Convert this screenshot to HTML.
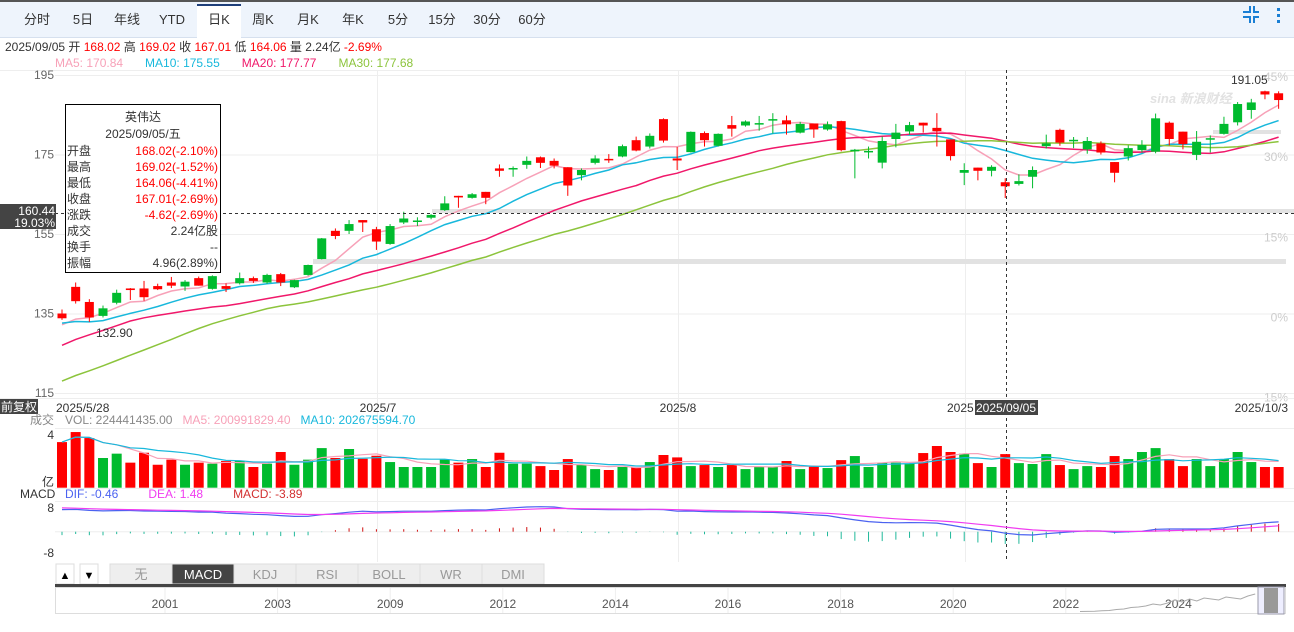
<!DOCTYPE html>
<html><head><meta charset="utf-8"><style>
html,body{margin:0;padding:0;background:#fff;}
body{width:1294px;height:627px;overflow:hidden;position:relative;font-family:"Liberation Sans","Noto Sans CJK SC",sans-serif;}
text{font-family:"Liberation Sans","Noto Sans CJK SC",sans-serif;}
</style></head><body>
<svg id="chart" width="1294" height="627" viewBox="0 0 1294 627" xmlns="http://www.w3.org/2000/svg">
  <rect x="0" y="0" width="1294" height="2" fill="#555"/>
  <rect x="0" y="2" width="1294" height="35" fill="#eef4fc"/>
  <line x1="0" y1="37.5" x2="1294" y2="37.5" stroke="#d6e0ee"/>
  <rect x="197" y="4" width="44" height="34" fill="#fff"/>
  <rect x="197" y="4" width="44" height="2" fill="#1f3f7a"/>
  <g id="tabs" font-size="13" fill="#333" text-anchor="middle"></g>
  <g fill="#1a7fd4">
    <rect x="1243" y="11" width="6" height="2"/><rect x="1249" y="6" width="2" height="7"/>
    <rect x="1253" y="11" width="6" height="2"/><rect x="1253" y="6" width="2" height="7"/>
    <rect x="1243" y="16" width="6" height="2"/><rect x="1249" y="16" width="2" height="7"/>
    <rect x="1253" y="16" width="6" height="2"/><rect x="1253" y="16" width="2" height="7"/>
  </g>
  <g fill="#1a7fd4">
    <rect x="1277" y="8" width="3" height="3"/><rect x="1277" y="14" width="3" height="3"/><rect x="1277" y="20" width="3" height="3"/>
  </g>
  <text x="5" y="51" font-size="12"><tspan fill="#333">2025/09/05 开 </tspan><tspan fill="#f00">168.02</tspan><tspan fill="#333"> 高 </tspan><tspan fill="#f00">169.02</tspan><tspan fill="#333"> 收 </tspan><tspan fill="#f00">167.01</tspan><tspan fill="#333"> 低 </tspan><tspan fill="#f00">164.06</tspan><tspan fill="#333"> 量 2.24亿 </tspan><tspan fill="#f00">-2.69%</tspan></text>
  <text x="55" y="67" font-size="12"><tspan fill="#f7a1b8">MA5: 170.84</tspan><tspan dx="22" fill="#18b8dc">MA10: 175.55</tspan><tspan dx="22" fill="#f0186a">MA20: 177.77</tspan><tspan dx="22" fill="#8cc43c">MA30: 177.68</tspan></text>
  <line x1="0" y1="70.5" x2="1294" y2="70.5" stroke="#eee"/>
  <g id="grid"></g>
  <g id="bands"></g>
  <g id="yaxis" font-size="12" fill="#666"></g>
  <g id="pctaxis" font-size="12" fill="#ccc" text-anchor="end"></g>
  <text x="1150" y="103" font-size="13" fill="#e2e2e2" font-style="italic" font-weight="bold">sina 新浪财经</text>
  <g id="ma"></g>
  <g id="candles"></g>
  <text x="96" y="337" font-size="12" fill="#333">132.90</text>
  <text x="1231" y="84" font-size="12" fill="#333">191.05</text>
  <line x1="55" y1="213.5" x2="1294" y2="213.5" stroke="#333" stroke-dasharray="3,3"/>
  <line x1="1006.5" y1="70" x2="1006.5" y2="562" stroke="#333" stroke-dasharray="3,3"/>
  <rect x="0" y="204" width="56" height="25" fill="#444"/>
  <text x="55" y="215" font-size="12" fill="#fff" text-anchor="end">160.44</text>
  <text x="55" y="227" font-size="12" fill="#fff" text-anchor="end">19.03%</text>
  <g>
    <rect x="65.5" y="104.5" width="155" height="168" fill="#fff" stroke="#000"/>
    <g font-size="12" fill="#333">
      <text x="143" y="121" text-anchor="middle">英伟达</text>
      <text x="143" y="138" text-anchor="middle">2025/09/05/五</text>
      <text x="67" y="155">开盘</text><text x="218" y="155" text-anchor="end" fill="#f00">168.02(-2.10%)</text>
      <text x="67" y="171">最高</text><text x="218" y="171" text-anchor="end" fill="#f00">169.02(-1.52%)</text>
      <text x="67" y="187">最低</text><text x="218" y="187" text-anchor="end" fill="#f00">164.06(-4.41%)</text>
      <text x="67" y="203">收盘</text><text x="218" y="203" text-anchor="end" fill="#f00">167.01(-2.69%)</text>
      <text x="67" y="219">涨跌</text><text x="218" y="219" text-anchor="end" fill="#f00">-4.62(-2.69%)</text>
      <text x="67" y="235">成交</text><text x="218" y="235" text-anchor="end">2.24亿股</text>
      <text x="67" y="251">换手</text><text x="218" y="251" text-anchor="end">--</text>
      <text x="67" y="267">振幅</text><text x="218" y="267" text-anchor="end">4.96(2.89%)</text>
    </g>
  </g>
  <line x1="0" y1="398.5" x2="1294" y2="398.5" stroke="#eee"/>
  <rect x="0" y="399" width="38" height="15" fill="#444"/>
  <text x="19" y="411" font-size="12" fill="#fff" text-anchor="middle">前复权</text>
  <g font-size="12" fill="#333">
    <text x="56" y="412">2025/5/28</text>
    <text x="378" y="412" text-anchor="middle">2025/7</text>
    <text x="678" y="412" text-anchor="middle">2025/8</text>
    <text x="947" y="412">2025</text>
    <text x="1288" y="412" text-anchor="end">2025/10/3</text>
  </g>
  <rect x="975" y="400" width="63" height="15" fill="#444"/>
  <text x="1006" y="412" font-size="12" fill="#fff" text-anchor="middle">2025/09/05</text>
  <text x="30" y="424" font-size="12" fill="#888">成交</text>
  <text x="65" y="424" font-size="12"><tspan fill="#888">VOL: 224441435.00</tspan><tspan dx="10" fill="#f7a1b8">MA5: 200991829.40</tspan><tspan dx="10" fill="#18b8dc">MA10: 202675594.70</tspan></text>
  <line x1="55" y1="428.5" x2="1294" y2="428.5" stroke="#eee"/>
  <text x="54" y="439" font-size="12" fill="#333" text-anchor="end">4</text>
  <text x="54" y="486" font-size="12" fill="#333" text-anchor="end">亿</text>
  <g id="vol"></g>
  <line x1="55" y1="488.5" x2="1294" y2="488.5" stroke="#eee"/>
  <text x="20" y="498" font-size="12" fill="#333">MACD</text>
  <text x="65" y="498" font-size="12"><tspan fill="#4b62f0">DIF: -0.46</tspan><tspan dx="30" fill="#f03cf0">DEA: 1.48</tspan><tspan dx="30" fill="#d23030">MACD: -3.89</tspan></text>
  <line x1="55" y1="501.5" x2="1294" y2="501.5" stroke="#eee"/>
  <text x="54" y="512" font-size="12" fill="#333" text-anchor="end">8</text>
  <text x="54" y="557" font-size="12" fill="#333" text-anchor="end">-8</text>
  <g id="macd"></g>
  <g>
    <rect x="56" y="564" width="18" height="20" fill="#fff" stroke="#ddd"/>
    <text x="65" y="579" font-size="11" text-anchor="middle" fill="#000">▲</text>
    <rect x="80" y="564" width="18" height="20" fill="#fff" stroke="#ddd"/>
    <text x="89" y="579" font-size="11" text-anchor="middle" fill="#000">▼</text>
  </g>
  <g id="indtabs" font-size="13" text-anchor="middle"></g>
  <rect x="55" y="584" width="1231" height="3" fill="#444"/>
  <rect x="55.5" y="587.5" width="1230" height="26" fill="#fff" stroke="#ddd"/>
  <g id="nav" font-size="12" fill="#555" text-anchor="middle"></g>
  <rect x="1258" y="587" width="26" height="27" fill="#eef" stroke="#99a"/>
  <rect x="1264" y="588" width="14" height="25" fill="#999"/>
</svg>
<script>
const NS='http://www.w3.org/2000/svg';
function mk(tag,attrs,parent){const e=document.createElementNS(NS,tag);for(const k in attrs)e.setAttribute(k,attrs[k]);parent.appendChild(e);return e;}
const preCloses=[96,98,99,100,101,100,101,102,101,102,108,111,114,117,117,123,129,131,132,132,134,135,133,131,132,131,132,131,133];
const opens=[135.0,141.7,137.9,134.4,137.7,141.3,141.3,141.9,142.8,141.8,143.9,141.2,141.9,142.6,143.9,142.8,144.9,141.6,144.7,148.7,155.8,155.8,158.5,156.2,152.5,157.9,158.2,159.1,161.0,164.6,164.1,165.6,171.5,171.4,172.4,174.3,173.4,171.8,169.8,172.9,173.9,174.5,178.6,177.0,183.9,174.0,175.6,180.4,177.2,182.4,182.3,182.8,183.8,183.6,180.5,182.8,181.3,183.4,175.8,175.7,172.95,178.9,180.8,183.0,181.7,178.8,170.4,171.7,170.9,168.02,167.6,169.4,177.1,181.2,178.6,176.3,177.8,173.1,174.5,176.1,175.7,183.0,180.75,174.9,178.9,180.2,183.1,186.2,190.9,190.4];
const closes=[133.8,138.1,134.0,136.3,140.2,140.9,139.1,141.1,142.0,143.0,142.0,144.4,141.2,143.9,143.2,144.7,142.8,143.4,147.2,153.9,154.5,157.5,157.9,153.1,157.0,158.9,158.4,159.8,162.7,164.2,165.0,164.1,170.9,171.6,173.4,172.9,172.2,167.2,171.1,174.0,173.7,177.1,176.0,179.7,178.5,173.5,180.7,178.6,180.2,181.5,183.3,182.9,183.9,182.6,182.7,181.3,182.6,176.1,176.2,175.9,178.4,180.5,182.4,182.3,180.9,174.6,171.1,170.9,171.9,167.01,168.3,171.1,177.8,178.0,178.7,178.4,175.5,170.4,176.6,177.4,184.1,178.9,177.6,178.2,179.1,182.7,187.7,188.1,190.1,188.7];
const highs=[136,142.8,138.6,137,141,141.4,143.2,142.5,144.2,143.4,144.3,144.6,142.6,145.3,144.3,145,145.2,143.5,147.3,154,156.4,158.5,158.5,156.8,157.5,160.6,159.2,160,164.5,164.6,165.3,165.6,172.5,172,174.5,174.5,174,171.8,171.5,174.8,175.1,177.5,179.5,180.3,184.1,176.9,180.8,180.8,180.3,184.7,183.6,184.7,185.4,184.8,183.2,182.8,183.3,183.5,176.4,177,179.5,182.7,183.2,183.0,185.4,178.8,172.8,171.7,172.3,169.02,170.0,172.0,180.0,181.5,179.4,179.4,178.3,173.1,177.3,178.6,185.3,183.3,180.75,180.9,179.8,184.5,188.2,189.0,191.05,190.9];
const lows=[133.4,137.5,132.9,134,137.3,138.4,138.2,140.9,141.4,140.7,142,141,140.4,142.3,142.7,142.5,141.9,141.4,144.5,148.6,153.7,155,155.5,151,152.3,157.5,157,158.7,160.8,161.6,163.9,162.5,169.4,169.4,171.4,171.6,171.5,164.6,168.5,172.5,172.9,174.3,175.8,176.5,178.0,171.1,175.5,177.0,177,179.5,182,181,180.3,180.0,180.3,179.2,181,175.8,169.0,174,171.5,176.8,180,180.5,177.0,173.5,167.3,168.5,169.5,164.06,167.2,166.5,176.5,177.2,176.6,175.2,175,168.0,173.5,175.5,175.3,177.3,176.3,173.6,175.5,180.0,182.3,184.0,188.9,186.5];
const volumes=[3.04,3.71,3.31,1.98,2.27,1.67,2.33,1.53,1.87,1.53,1.67,1.60,1.78,1.78,1.38,1.60,2.38,1.53,1.87,2.64,1.98,2.58,1.93,2.13,1.71,1.38,1.38,1.38,1.87,1.67,1.91,1.38,2.33,1.60,1.60,1.44,1.18,1.91,1.53,1.24,1.18,1.38,1.38,1.71,2.18,2.02,1.44,1.51,1.38,1.51,1.24,1.38,1.38,1.78,1.24,1.44,1.31,1.84,2.11,1.38,1.67,1.67,1.60,2.31,2.78,2.38,2.27,1.64,1.38,2.24,1.64,1.58,2.24,1.51,1.24,1.44,1.38,2.11,1.91,2.38,2.64,1.91,1.44,1.91,1.44,1.91,2.38,1.71,1.38,1.38];
const priceTicks=[195,175,155,135,115];
const pctTicks=[45,30,15,0,-15];
const pctBase=134.5;
const tabLabels=['分时','5日','年线','YTD','日K','周K','月K','年K','5分','15分','30分','60分'];
const indicatorLabels=['无','MACD','KDJ','RSI','BOLL','WR','DMI'];
const navYears=['2001','2003','2009','2012','2014','2016','2018','2020','2022','2024'];
const navPrices=[0.5,0.6,0.8,1.2,1.5,2.5,3,4.5,5,6,8,7,9,12,10,13,11,14,13,12,15,14,13,16,18];

const xOf=i=>62+i*13.67;
const yP=p=>75+(195-p)*3.975;
const yV=v=>487.7-v*15;
const yM=v=>531.7-v*3;

const tabX=[37,83,127,172,219,263,308,353,398,442,487,532];
const tg=document.getElementById('tabs');
tabLabels.forEach((t,i)=>{const e=mk('text',{x:tabX[i],y:24},tg);e.textContent=t;

});
const grid=document.getElementById('grid');
priceTicks.forEach(p=>{const l=mk('line',{x1:55,x2:1294,y1:yP(p)+0.5,y2:yP(p)+0.5,stroke:'#eee'},grid);

});
[377.5,678.5,965.5].forEach(x=>{const l=mk('line',{x1:x,x2:x,y1:70,y2:562,stroke:'#eee'},grid);

});
const bg=document.getElementById('bands');
[[313,259,973,5],[432,209,862,4],[1213,130,68,4]].forEach(b=>{const r=mk('rect',{x:b[0],y:b[1],width:b[2],height:b[3],fill:'#e2e2e2'},bg);

});
const ya=document.getElementById('yaxis');
priceTicks.forEach(p=>{const t=mk('text',{x:54,y:yP(p)+4,'text-anchor':'end'},ya);t.textContent=p;

});
const pa=document.getElementById('pctaxis');
pctTicks.forEach(v=>{const p=pctBase*(1+v/100);const t=mk('text',{x:1288,y:yP(p)+6},pa);t.textContent=v+'%';

});
const all=preCloses.concat(closes);const off=preCloses.length;
function ma(n){const r=[];for(let i=0;i<closes.length;i++){let s=0;for(let k=0;k<n;k++)s+=all[off+i-k];r.push(s/n);}return r;}
const mag=document.getElementById('ma');
[[5,'#f7a1b8'],[10,'#18b8dc'],[20,'#f0186a'],[30,'#8cc43c']].forEach(([n,c])=>{
const v=ma(n);const pts=v.map((p,i)=>xOf(i).toFixed(1)+','+yP(p).toFixed(1)).join(' ');
const pl=mk('polyline',{points:pts,fill:'none',stroke:c,'stroke-width':1.5},mag);

});
const cg=document.getElementById('candles');
closes.forEach((c,i)=>{const o=opens[i];const col=c<o?'#f00':'#00bb2e';const x=xOf(i);
const w=mk('line',{x1:x,x2:x,y1:yP(highs[i]),y2:yP(lows[i]),stroke:col,'stroke-width':1},cg);


const top=yP(Math.max(o,c)),bot=yP(Math.min(o,c));
const r=mk('rect',{x:x-4.5,y:top,width:9,height:Math.max(1.5,bot-top),fill:col},cg);

});
const vg=document.getElementById('vol');
volumes.forEach((v,i)=>{const col=closes[i]<opens[i]?'#f00':'#00bb2e';
const r=mk('rect',{x:xOf(i)-5,y:yV(v),width:10,height:487.7-yV(v),fill:col},vg);

});
function vma(n){return volumes.map((v,i)=>{let s=0,c=0;for(let k=0;k<n&&i-k>=0;k++){s+=volumes[i-k];c++;}return s/c;});}
[[5,'#f7a1b8'],[10,'#18b8dc']].forEach(([n,c])=>{const pts=vma(n).map((v,i)=>xOf(i).toFixed(1)+','+yV(v).toFixed(1)).join(' ');
const pl=mk('polyline',{points:pts,fill:'none',stroke:c,'stroke-width':1.2},vg);

});
let e12=all[0],e26=all[0],dea=0;const dif=[],deas=[];
all.forEach((p,k)=>{e12=e12*11/13+p*2/13;e26=e26*25/27+p*2/27;const d=e12-e26;dea=dea*0.8+d*0.2;if(k>=off){dif.push(d);deas.push(dea);}});
const mg=document.getElementById('macd');
mk('line',{x1:55,x2:1294,y1:yM(0),y2:yM(0),stroke:'#eee'},mg);
dif.forEach((d,i)=>{const h=2*(d-deas[i]);const l=mk('line',{x1:xOf(i),x2:xOf(i),y1:yM(0),y2:yM(h),stroke:h>=0?'#d01010':'#20b89a','stroke-width':1},mg);

});
[[dif,'#4b62f0','dif-line'],[deas,'#f03cf0','dea-line']].forEach(([arr,c,n])=>{
const pl=mk('polyline',{points:arr.map((v,i)=>xOf(i).toFixed(1)+','+yM(v).toFixed(1)).join(' '),fill:'none',stroke:c,'stroke-width':1.2},mg);

});
const ig=document.getElementById('indtabs');
indicatorLabels.forEach((t,i)=>{const x=110+i*62;const sel=t==='MACD';
const r=mk('rect',{x:x,y:564,width:62,height:20,fill:sel?'#444':'#eee',stroke:'#ddd'},ig);


const e=mk('text',{x:x+31,y:579,fill:sel?'#fff':'#999'},ig);e.textContent=t;});
const ng=document.getElementById('nav');
navYears.forEach((y,i)=>{const x=165+i*112.6;
const l=mk('line',{x1:x,x2:x,y1:588,y2:613,stroke:'#eee'},ng);


const t=mk('text',{x:x,y:608},ng);t.textContent=y;

});
const np=navPrices.map((v,i)=>(1080+i*7.3).toFixed(1)+','+(612-v).toFixed(1)).join(' ');
const nl=mk('polyline',{points:np,fill:'none',stroke:'#aaa','stroke-width':1},ng);


</script>
</body></html>
